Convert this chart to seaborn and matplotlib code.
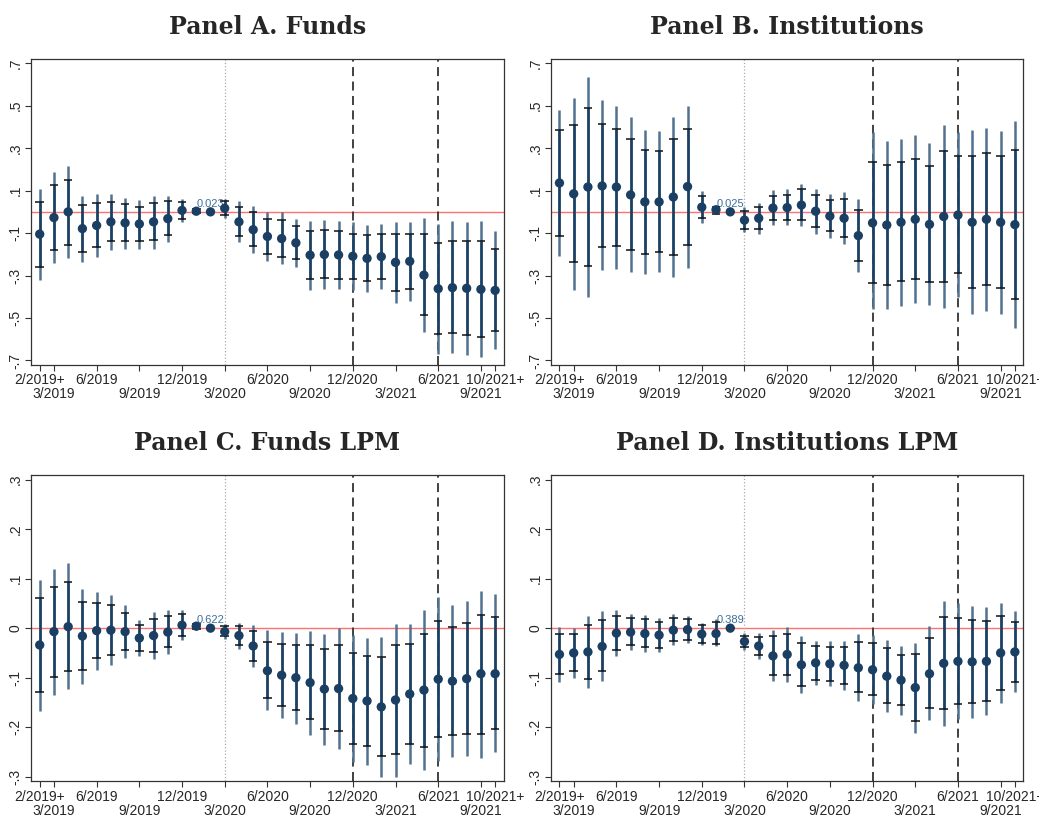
import numpy as np
import pandas as pd
import matplotlib
matplotlib.use("Agg")
import matplotlib.pyplot as plt
import seaborn as sns

# month index 0..32 (2/2019+ ... 10/2021+)
months = np.arange(33)
tick_pos = [0, 1, 4, 7, 10, 13, 16, 19, 22, 25, 28, 31, 32]
tick_lab = ["2/2019+", "\n3/2019", "6/2019", "\n9/2019", "12/2019", "\n3/2020", "6/2020",
            "\n9/2020", "12/2020", "\n3/2021", "6/2021", "\n9/2021", "10/2021+"]

# Panel A. Funds
a_est = [-0.105, -0.027, 0.0, -0.079, -0.064, -0.047, -0.052, -0.057, -0.047, -0.032, 0.007, 0.003, 0.0,
         0.017, -0.047, -0.084, -0.116, -0.126, -0.146, -0.204, -0.201, -0.203, -0.209, -0.219, -0.211,
         -0.238, -0.233, -0.298, -0.362, -0.357, -0.360, -0.365, -0.370]
a_hi1 = [0.047, 0.126, 0.152, 0.032, 0.042, 0.047, 0.035, 0.023, 0.040, 0.049, 0.047, 0.013, 0.0,
         0.049, 0.022, -0.003, -0.032, -0.039, -0.069, -0.089, -0.085, -0.089, -0.102, -0.111, -0.104,
         -0.104, -0.102, -0.106, -0.147, -0.136, -0.139, -0.139, -0.174]
a_lo1 = [-0.258, -0.178, -0.154, -0.188, -0.166, -0.139, -0.136, -0.136, -0.134, -0.109, -0.034, -0.007, 0.0,
         -0.017, -0.114, -0.161, -0.198, -0.211, -0.223, -0.317, -0.313, -0.315, -0.318, -0.328, -0.318,
         -0.372, -0.363, -0.487, -0.576, -0.573, -0.580, -0.588, -0.563]
a_hi2 = [0.109, 0.189, 0.214, 0.077, 0.084, 0.084, 0.067, 0.057, 0.077, 0.077, 0.060, 0.016, 0.0,
         0.059, 0.049, 0.028, 0.0, -0.003, -0.034, -0.042, -0.037, -0.042, -0.050, -0.064, -0.059,
         -0.047, -0.047, -0.027, -0.059, -0.045, -0.047, -0.045, -0.092]
a_lo2 = [-0.322, -0.243, -0.219, -0.235, -0.211, -0.179, -0.174, -0.173, -0.174, -0.142, -0.047, -0.010, 0.0,
         -0.027, -0.142, -0.194, -0.233, -0.248, -0.258, -0.367, -0.363, -0.363, -0.369, -0.377, -0.365,
         -0.429, -0.419, -0.568, -0.670, -0.667, -0.673, -0.683, -0.648]

# Panel B. Institutions
b_est = [0.136, 0.085, 0.117, 0.122, 0.117, 0.080, 0.047, 0.047, 0.070, 0.119, 0.022, 0.010, 0.0,
         -0.039, -0.030, 0.018, 0.020, 0.032, 0.003, -0.020, -0.030, -0.112, -0.052, -0.062, -0.049,
         -0.035, -0.059, -0.022, -0.015, -0.049, -0.035, -0.049, -0.060]
b_hi1 = [0.384, 0.410, 0.489, 0.415, 0.392, 0.343, 0.290, 0.286, 0.342, 0.390, 0.074, 0.023, 0.0,
         0.005, 0.022, 0.077, 0.080, 0.107, 0.080, 0.055, 0.059, 0.010, 0.235, 0.223, 0.235,
         0.251, 0.216, 0.288, 0.263, 0.261, 0.278, 0.261, 0.291]
b_lo1 = [-0.112, -0.235, -0.253, -0.164, -0.159, -0.181, -0.199, -0.189, -0.201, -0.154, -0.030, -0.008, 0.0,
         -0.080, -0.082, -0.039, -0.039, -0.039, -0.072, -0.090, -0.117, -0.233, -0.333, -0.343, -0.328,
         -0.317, -0.332, -0.332, -0.288, -0.358, -0.343, -0.360, -0.410]
b_hi2 = [0.481, 0.538, 0.635, 0.526, 0.499, 0.446, 0.387, 0.379, 0.449, 0.497, 0.097, 0.027, 0.0,
         0.023, 0.042, 0.102, 0.106, 0.132, 0.107, 0.082, 0.092, 0.059, 0.375, 0.333, 0.343,
         0.360, 0.323, 0.409, 0.374, 0.384, 0.397, 0.382, 0.429]
b_lo2 = [-0.208, -0.367, -0.399, -0.276, -0.268, -0.285, -0.295, -0.283, -0.308, -0.265, -0.052, -0.012, 0.0,
         -0.095, -0.102, -0.060, -0.060, -0.069, -0.102, -0.121, -0.151, -0.283, -0.456, -0.456, -0.442,
         -0.429, -0.441, -0.454, -0.399, -0.482, -0.466, -0.482, -0.549]

# Panel C. Funds LPM
c_est = [-0.034, -0.007, 0.003, -0.016, -0.005, -0.004, -0.007, -0.020, -0.015, -0.008, 0.006, 0.004, 0.0,
         -0.007, -0.015, -0.036, -0.086, -0.095, -0.100, -0.110, -0.123, -0.122, -0.142, -0.147, -0.159,
         -0.145, -0.133, -0.125, -0.103, -0.107, -0.102, -0.092, -0.092]
c_hi1 = [0.060, 0.084, 0.094, 0.052, 0.050, 0.046, 0.031, 0.006, 0.019, 0.024, 0.028, 0.008, 0.0,
         0.004, 0.004, -0.005, -0.027, -0.033, -0.035, -0.035, -0.043, -0.035, -0.051, -0.056, -0.058,
         -0.034, -0.031, -0.011, 0.014, 0.002, 0.010, 0.027, 0.023]
c_lo1 = [-0.128, -0.098, -0.087, -0.084, -0.061, -0.054, -0.045, -0.046, -0.049, -0.039, -0.015, -0.001, 0.0,
         -0.016, -0.034, -0.066, -0.142, -0.157, -0.165, -0.184, -0.203, -0.208, -0.233, -0.238, -0.258,
         -0.255, -0.233, -0.239, -0.219, -0.216, -0.213, -0.213, -0.204]
c_hi2 = [0.097, 0.120, 0.131, 0.079, 0.072, 0.066, 0.047, 0.016, 0.033, 0.037, 0.037, 0.010, 0.0,
         0.009, 0.011, 0.007, -0.004, -0.007, -0.009, -0.006, -0.011, 0.0, -0.013, -0.019, -0.017,
         0.009, 0.009, 0.036, 0.062, 0.046, 0.055, 0.076, 0.069]
c_lo2 = [-0.167, -0.135, -0.123, -0.112, -0.084, -0.075, -0.060, -0.057, -0.062, -0.052, -0.024, -0.003, 0.0,
         -0.021, -0.042, -0.078, -0.165, -0.182, -0.193, -0.215, -0.235, -0.244, -0.271, -0.276, -0.300,
         -0.300, -0.275, -0.286, -0.269, -0.261, -0.258, -0.262, -0.251]

# Panel D. Institutions LPM
d_est = [-0.053, -0.050, -0.048, -0.037, -0.010, -0.008, -0.011, -0.014, -0.004, -0.003, -0.012, -0.011, 0.0,
         -0.027, -0.036, -0.056, -0.053, -0.074, -0.070, -0.072, -0.075, -0.080, -0.084, -0.097, -0.105,
         -0.120, -0.092, -0.071, -0.067, -0.068, -0.067, -0.050, -0.048]
d_hi1 = [-0.011, -0.012, 0.007, 0.016, 0.025, 0.021, 0.018, 0.013, 0.020, 0.018, 0.006, 0.012, 0.0,
         -0.015, -0.018, -0.016, -0.011, -0.030, -0.037, -0.038, -0.038, -0.028, -0.030, -0.041, -0.054,
         -0.052, -0.020, 0.023, 0.021, 0.017, 0.015, 0.025, 0.013]
d_lo1 = [-0.093, -0.087, -0.102, -0.087, -0.044, -0.035, -0.039, -0.040, -0.026, -0.023, -0.029, -0.031, 0.0,
         -0.039, -0.054, -0.095, -0.094, -0.116, -0.104, -0.106, -0.112, -0.129, -0.135, -0.152, -0.156,
         -0.188, -0.161, -0.163, -0.154, -0.152, -0.147, -0.124, -0.108]
d_hi2 = [0.002, 0.0, 0.025, 0.034, 0.037, 0.029, 0.026, 0.021, 0.029, 0.024, 0.011, 0.018, 0.0,
         -0.009, -0.009, -0.004, 0.002, -0.016, -0.025, -0.026, -0.026, -0.011, -0.013, -0.023, -0.036,
         -0.029, 0.004, 0.054, 0.050, 0.045, 0.042, 0.050, 0.034]
d_lo2 = [-0.108, -0.100, -0.121, -0.106, -0.056, -0.045, -0.049, -0.049, -0.035, -0.029, -0.034, -0.037, 0.0,
         -0.045, -0.062, -0.106, -0.108, -0.131, -0.115, -0.117, -0.124, -0.147, -0.154, -0.170, -0.175,
         -0.211, -0.186, -0.197, -0.184, -0.181, -0.175, -0.151, -0.129]

panels = [
    ("Panel A. Funds", a_est, a_lo1, a_hi1, a_lo2, a_hi2, "0.023", 0.7, [-.7, -.5, -.3, -.1, .1, .3, .5, .7]),
    ("Panel B. Institutions", b_est, b_lo1, b_hi1, b_lo2, b_hi2, "0.025", 0.7, [-.7, -.5, -.3, -.1, .1, .3, .5, .7]),
    ("Panel C. Funds LPM", c_est, c_lo1, c_hi1, c_lo2, c_hi2, "0.622", 0.3, [-.3, -.2, -.1, 0, .1, .2, .3]),
    ("Panel D. Institutions LPM", d_est, d_lo1, d_hi1, d_lo2, d_hi2, "0.389", 0.3, [-.3, -.2, -.1, 0, .1, .2, .3]),
]

sns.set_theme(style="white")
plt.rcParams['font.family'] = ['Liberation Sans', 'DejaVu Sans']

fig, axes = plt.subplots(2, 2, figsize=(10.39, 8.4), dpi=100)
plt.subplots_adjust(left=0.03, right=0.985, top=0.93, bottom=0.07, wspace=0.1, hspace=0.36)

navy = "#1a3f63"
outer = "#50718f"

def fmt(v):
    if v == 0:
        return "0"
    return ("%g" % v).replace("0.", ".")

for ax, (title, est, lo1, hi1, lo2, hi2, lab, lim, yt) in zip(axes.flat, panels):
    df = pd.DataFrame({"m": months, "est": est, "lo1": lo1, "hi1": hi1, "lo2": lo2, "hi2": hi2})
    ax.axhline(0, color="#ff7070", lw=1, zorder=1)
    ax.axvline(13, color="#aaaaaa", lw=0.9, ls=":", zorder=1)
    for v in (22, 28):
        ax.axvline(v, color="#333333", lw=1.3, ls=(0, (5, 3)), zorder=1)
    ax.vlines(df["m"], df["lo2"], df["hi2"], color=outer, lw=1.8, zorder=2)
    ax.vlines(df["m"], df["lo1"], df["hi1"], color=navy, lw=1.8, zorder=3)
    ax.hlines(df["lo1"], df["m"] - 0.3, df["m"] + 0.3, color="#111111", lw=1.1, zorder=4)
    ax.hlines(df["hi1"], df["m"] - 0.3, df["m"] + 0.3, color="#111111", lw=1.1, zorder=4)
    sns.scatterplot(data=df, x="m", y="est", ax=ax, color=navy, s=45, edgecolor="none", zorder=5, legend=False)
    ax.text(12, est[12] + lim * 0.02, lab, color="#3f6f9a", fontsize=8, ha="center", va="bottom")
    ax.set_ylim(-lim * 1.03, lim * 1.03)
    ax.set_xlim(-0.6, 32.6)
    ax.set_yticks(yt)
    ax.set_yticklabels([fmt(v) for v in yt], rotation=90, va="center", fontsize=10)
    ax.set_xticks(tick_pos)
    ax.set_xticklabels(tick_lab, fontsize=10, linespacing=1.0)
    ax.tick_params(axis="both", length=4, width=0.8, color="#333333", left=True, bottom=True, pad=2)
    ax.set_xlabel("")
    ax.set_ylabel("")
    for sp in ax.spines.values():
        sp.set_color("#333333")
        sp.set_linewidth(0.9)
    ax.set_title(title, fontsize=17, fontweight="bold", family="DejaVu Serif", pad=18)

fig.savefig("out.png", dpi=100)
